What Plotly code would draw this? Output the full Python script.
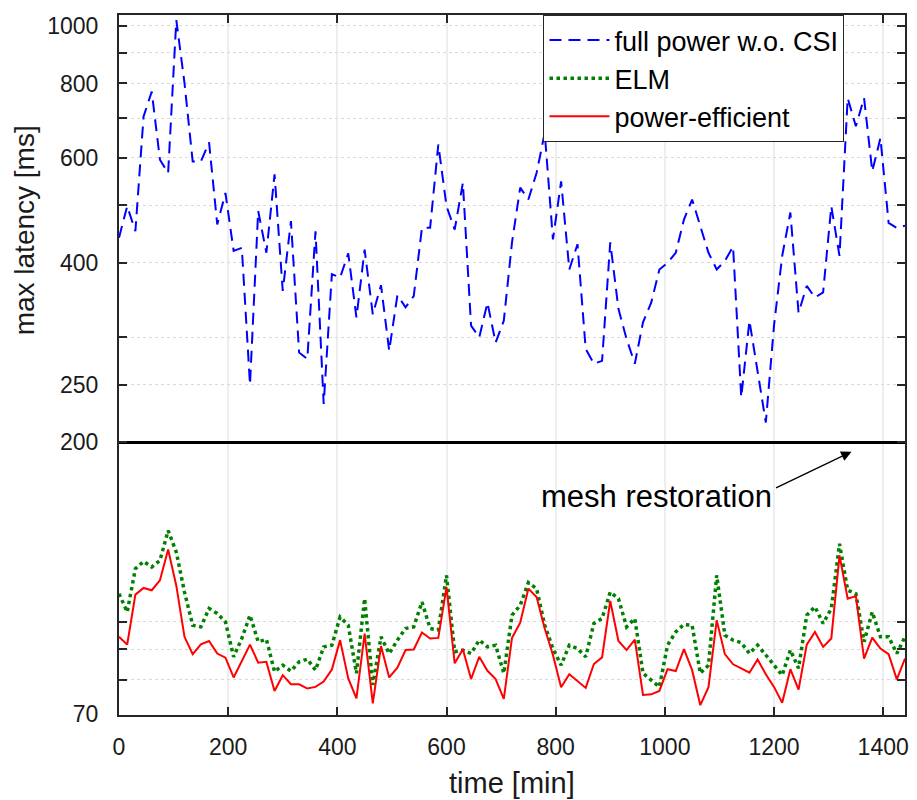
import math
import plotly.graph_objects as go

# ---------------- data ----------------
TIME_MIN = list(range(0, 1441, 15))

FULL_POWER = [441, 498, 452, 704, 775, 596, 566, 1022, 801, 592, 592, 637, 464, 524, 419, 424,
              250, 489, 416, 563, 359, 470, 283, 276, 452, 232, 383, 378, 415, 324, 421, 328,
              367, 285, 353, 337, 352, 458, 458, 632, 498, 455, 545, 314, 300, 343, 294, 320,
              433, 535, 511, 566, 661, 438, 548, 390, 430, 287, 271, 274, 433, 335, 298, 271,
              318, 343, 390, 400, 416, 473, 511, 461, 416, 390, 403, 426, 238, 320, 264, 216,
              314, 411, 486, 330, 366, 350, 357, 498, 411, 756, 678, 756, 570, 648, 467, 458, 462]

ELM = [111.5, 103.9, 122.8, 126.3, 123.6, 126.8, 142.3, 130.9, 112.2, 98.7, 98.1, 105.3, 103.3, 100.0,
       87.4, 93.8, 102.6, 92.6, 93.5, 82.5, 84.6, 82.7, 85.7, 86.6, 83.0, 90.8, 91.4, 101.9, 98.7,
       82.0, 109.4, 78.4, 94.4, 88.5, 93.2, 97.5, 98.1, 108.0, 97.5, 96.9, 119.7, 89.1, 89.7, 88.5,
       93.2, 90.8, 91.4, 82.0, 102.6, 106.6, 116.4, 113.7, 98.7, 90.2, 84.6, 91.4, 90.2, 87.4, 99.4,
       101.3, 112.2, 109.4, 98.1, 101.3, 82.0, 79.9, 77.8, 91.4, 96.2, 99.0, 98.7, 82.0, 84.6, 119.7,
       95.0, 93.2, 92.3, 88.5, 91.4, 88.0, 84.6, 81.4, 89.7, 83.6, 102.6, 106.0, 99.4, 105.3, 135.2,
       113.0, 111.5, 92.6, 103.9, 94.4, 94.4, 88.5, 94.4]

POWER_EFFICIENT = [94.4, 91.6, 111.1, 114.0, 113.0, 117.4, 132.3, 115.0, 94.4, 88.3, 91.7, 92.9, 88.5,
                   87.1, 80.7, 86.1, 91.6, 85.4, 85.7, 76.6, 81.4, 78.6, 78.6, 77.3, 77.8, 79.4, 83.2,
                   93.2, 80.4, 74.4, 95.6, 73.0, 91.1, 80.7, 83.8, 89.7, 89.9, 96.0, 93.8, 94.0, 114.4,
                   85.2, 90.0, 80.2, 87.4, 82.8, 80.2, 74.3, 94.0, 99.7, 113.7, 110.1, 97.5, 88.0, 77.7,
                   81.7, 79.6, 77.5, 85.0, 87.2, 108.4, 92.9, 89.7, 93.4, 75.4, 75.6, 76.6, 83.3, 82.7,
                   90.0, 83.0, 72.5, 77.7, 100.6, 88.3, 84.9, 83.6, 82.2, 86.5, 81.7, 77.8, 73.2, 83.3,
                   77.0, 91.6, 96.2, 90.8, 93.8, 129.3, 109.4, 110.5, 86.8, 94.1, 90.2, 88.3, 80.1, 86.8]

SERIES_NAMES = ["full power w.o. CSI", "ELM", "power-efficient"]

MESH_LEVEL = 200          # horizontal threshold line
TIME_SPAN = [0, 1440]

X_TICKS = [0, 200, 400, 600, 800, 1000, 1200, 1400]
Y_TICKS = [70, 80, 90, 100, 200, 250, 300, 400, 500, 600, 700, 800, 900, 1000]
Y_LABELED = [70, 200, 250, 400, 600, 800, 1000]
Y_RANGE = [69.8, 1042]

ANNOT_TEXT = "mesh restoration"
ARROW_HEAD = (1342, 193)   # (time, latency) where the arrow points
TEXT_POS = (985, 162)      # (time, latency) of text centre

FONT = "Liberation Sans, Arial, sans-serif"
INK = "#1a1a1a"

# ---------------- figure ----------------
fig = go.Figure()

fig.add_trace(go.Scatter(x=TIME_SPAN, y=[MESH_LEVEL, MESH_LEVEL], mode="lines",
                         line=dict(color="black", width=3), showlegend=False,
                         hoverinfo="skip"))
fig.add_trace(go.Scatter(x=TIME_MIN, y=FULL_POWER, mode="lines", name=SERIES_NAMES[0],
                         line=dict(color="#0000ff", width=2, dash="12px,7px")))
fig.add_trace(go.Scatter(x=TIME_MIN, y=ELM, mode="lines", name=SERIES_NAMES[1],
                         line=dict(color="#008000", width=3.5, dash="dot")))
fig.add_trace(go.Scatter(x=TIME_MIN, y=POWER_EFFICIENT, mode="lines", name=SERIES_NAMES[2],
                         line=dict(color="#ff0000", width=2)))

fig.update_layout(
    width=917, height=800,
    margin=dict(l=119, r=8, t=15, b=85),
    paper_bgcolor="white", plot_bgcolor="white",
    font=dict(family=FONT, color=INK),
    legend=dict(x=0.923, y=1.0, xanchor="right", yanchor="top",
                bgcolor="white", bordercolor="#262626", borderwidth=1,
                font=dict(family=FONT, size=27, color="black"),
                itemwidth=60, tracegroupgap=0),
    xaxis=dict(range=TIME_SPAN, tickvals=X_TICKS, ticks="inside", ticklen=8,
               tickwidth=1.5, tickcolor="#262626", showline=True, linecolor="#262626",
               linewidth=2, mirror="ticks", showgrid=True, gridcolor="#eeeeee",
               gridwidth=1.5, zeroline=False, tickfont=dict(size=23, color=INK),
               ticklabelstandoff=10),
    yaxis=dict(type="log", range=[math.log10(Y_RANGE[0]), math.log10(Y_RANGE[1])],
               tickvals=Y_TICKS,
               ticktext=[str(v) if v in Y_LABELED else "" for v in Y_TICKS],
               ticks="inside", ticklen=8, tickwidth=1.5, tickcolor="#262626",
               showline=True, linecolor="#262626", linewidth=2, mirror="ticks",
               showgrid=True, gridcolor="#dadada", griddash="dot", gridwidth=1,
               zeroline=False, tickfont=dict(size=23, color=INK),
               ticklabelstandoff=14),
    annotations=[
        dict(x=ARROW_HEAD[0], y=math.log10(ARROW_HEAD[1]), xref="x", yref="y",
             text="", showarrow=True, ax=-77, ay=37, arrowhead=2, arrowsize=1.6,
             arrowwidth=1.3, arrowcolor="black", standoff=0),
        dict(x=TEXT_POS[0], y=math.log10(TEXT_POS[1]), xref="x", yref="y",
             text=ANNOT_TEXT, showarrow=False, font=dict(size=31, color="black")),
        dict(x=-0.1203, y=0.693, xref="paper", yref="paper", text="max latency [ms]",
             textangle=-90, showarrow=False, xanchor="center", yanchor="middle",
             font=dict(size=28, color=INK)),
        dict(x=0.5, y=-0.097, xref="paper", yref="paper", text="time [min]",
             showarrow=False, xanchor="center", yanchor="middle",
             font=dict(size=29, color=INK)),
    ],
)

fig.write_html("out.html")
